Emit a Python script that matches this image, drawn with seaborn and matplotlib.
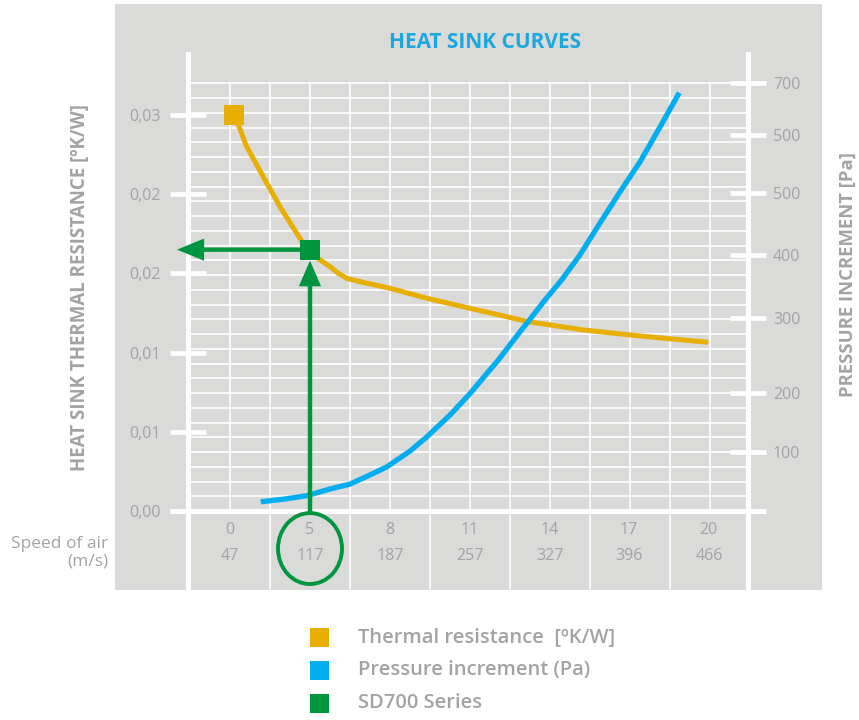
import numpy as np
import pandas as pd
import matplotlib
matplotlib.use("Agg")
import matplotlib.pyplot as plt
import matplotlib.transforms as mtransforms
from matplotlib.patches import Rectangle, Ellipse, FancyArrowPatch, ArrowStyle
from matplotlib.lines import Line2D
import seaborn as sns

# ---------------- data ----------------
SPEEDS = ["0", "5", "8", "11", "14", "17", "20"]
FLOWS = [47, 117, 187, 257, 327, 396, 466]

THERMAL_X = [50.9, 61.6, 76.1, 90.75, 105.4, 114.1, 122.9, 134.5, 142.0, 149.1, 160.75,
             187.0, 219.1, 257.0, 308.0, 356.1, 405.75, 465.5]
THERMAL_Y = [0.02503, 0.02300, 0.02110, 0.01921, 0.01753, 0.01654, 0.01600, 0.01542,
             0.01500, 0.01469, 0.01448, 0.01406, 0.01343, 0.01280, 0.01195, 0.01143,
             0.01105, 0.01065]

PRESSURE_X = [73.9, 95.1, 114.1, 134.5, 152.0, 169.5, 184.1, 204.5, 219.1, 239.5, 257.0,
              274.5, 281.8, 300.75, 308.0, 322.6, 337.2, 353.25, 370.75, 388.25, 405.75,
              423.25, 440.1]
PRESSURE_Y = [15, 19.6, 25, 36, 44, 59, 72, 98, 121, 157, 192,
              231, 247, 293, 310, 345, 378, 419, 471, 522, 571,
              628, 684]

SD700_X = 117
SD700_Y = 0.0165

LEFT_TICKS = [0, 0.005, 0.01, 0.015, 0.02, 0.025]
LEFT_LABELS = ["0,00", "0,01", "0,01", "0,02", "0,02", "0,03"]
RIGHT_TICKS = [0, 97, 193, 316, 419, 520, 615, 700]
RIGHT_LABELS = ["", "100", "200", "300", "400", "500", "500", "700"]

LEGEND_LABELS = ["Thermal resistance  [ºK/W]", "Pressure increment (Pa)", "SD700 Series"]

# ---------------- style ----------------
sns.set_style("white")
plt.rcParams['font.family'] = ['Open Sans', 'DejaVu Sans']

ORANGE = "#E8AE00"
BLUE = "#00AEEF"
GREEN = "#00963F"
BG = "#DADAD9"
TXT = "#A3A3A3"
TITLE = "#1BA8E0"

W, H = 859, 720
fig = plt.figure(figsize=(W / 100, H / 100), dpi=100)
fig.patch.set_facecolor("white")


def fx(px):
    return px / W


def fy(py):
    return 1 - py / H


fig.add_artist(Rectangle((fx(115), fy(590)), fx(822) - fx(115), fy(4) - fy(590),
                         transform=fig.transFigure, facecolor=BG, edgecolor='none', zorder=-10))

ax = fig.add_axes([fx(188), fy(590), fx(748) - fx(188), fy(54) - fy(590)])
ax.set_facecolor('none')
ax2 = ax.twinx()
ax2.set_zorder(ax.get_zorder() + 1)
ax2.patch.set_visible(False)

XLIM = (10.25, 500.25)
YLIM = (-0.004987, 0.028851)
Y2LIM = (-129.2, 747.4)
GRID_TOP = 0.0270

# grid
ax.hlines(np.linspace(0, GRID_TOP, 30)[1:], XLIM[0], XLIM[1], color='white', lw=1.2, zorder=1)
ax.vlines(np.arange(47, 470, 35), 0, GRID_TOP, color='white', lw=1.2, zorder=1)
ax.vlines(np.arange(82, 440, 70), YLIM[0], 0, color='white', lw=1.1, zorder=1)

# curves
thermal = pd.DataFrame({"x": THERMAL_X, "y": THERMAL_Y})
pressure = pd.DataFrame({"x": PRESSURE_X, "y": PRESSURE_Y})
sns.lineplot(data=thermal, x="x", y="y", ax=ax, color=ORANGE, lw=3.6, sort=False,
             zorder=3, solid_capstyle='butt', solid_joinstyle='round')
sns.scatterplot(x=[THERMAL_X[0]], y=[THERMAL_Y[0]], ax=ax, marker='s', s=190,
                color=ORANGE, linewidth=0, zorder=4, legend=False)
sns.lineplot(data=pressure, x="x", y="y", ax=ax2, color=BLUE, lw=3.8, sort=False,
             zorder=3, solid_capstyle='butt', solid_joinstyle='round')

# SD700 marker, arrows, circle (drawn in left-axis data coords on top layer)
circle_cy = -0.00237
circle_h = 0.00448
ax2.add_patch(Ellipse((SD700_X, circle_cy), 56, circle_h, transform=ax.transData,
                      facecolor='none', edgecolor=GREEN, lw=2.8, zorder=5))
ax2.add_patch(FancyArrowPatch((SD700_X, circle_cy + circle_h / 2), (SD700_X, SD700_Y),
                              transform=ax.transData,
                              arrowstyle=ArrowStyle("simple", head_length=18.5, head_width=16, tail_width=3.2),
                              mutation_scale=1, shrinkA=0, shrinkB=7.9, color=GREEN, lw=0,
                              zorder=5, clip_on=False))
ax2.add_patch(FancyArrowPatch((SD700_X, SD700_Y), (XLIM[0] - 9.6, SD700_Y),
                              transform=ax.transData,
                              arrowstyle=ArrowStyle("simple", head_length=19.5, head_width=16, tail_width=3.2),
                              mutation_scale=1, shrinkA=0, shrinkB=0, color=GREEN, lw=0,
                              zorder=5, clip_on=False))
sns.scatterplot(x=[SD700_X], y=[SD700_Y], ax=ax2, transform=ax.transData, marker='s', s=195,
                color=GREEN, linewidth=0, zorder=6, legend=False)

# axis category labels
for s, f in zip(SPEEDS, FLOWS):
    ax.text(f, -0.0012, s, ha='center', va='center', fontsize=11.5, color=TXT)
    ax.text(f, -0.00284, str(f), ha='center', va='center', fontsize=11.5, color=TXT)

# limits
ax.set_xlim(XLIM)
ax.set_ylim(YLIM)
ax2.set_ylim(Y2LIM)
ax.set_xlabel("")
ax.set_ylabel("")
ax2.set_ylabel("")
ax.set_xticks([])

# spines
for a in (ax, ax2):
    for sp in a.spines.values():
        sp.set_visible(False)
for side in ("left", "right"):
    ax.spines[side].set_visible(True)
    ax.spines[side].set_color("white")
    ax.spines[side].set_linewidth(3.6)

blend = mtransforms.blended_transform_factory(ax.transAxes, ax.transData)
ax.add_line(Line2D([-0.032, 1.030], [0, 0], transform=blend, color='white', lw=3.6,
                   clip_on=False, zorder=2, solid_capstyle='butt'))

# ticks
ax.set_yticks(LEFT_TICKS, LEFT_LABELS)
ax.tick_params(axis='y', which='both', direction='inout', length=26, width=3.4, color='white',
               pad=6.5, labelsize=11.5, labelcolor=TXT, left=True, right=False)
ax2.set_yticks(RIGHT_TICKS, RIGHT_LABELS)
ax2.tick_params(axis='y', which='both', direction='inout', length=26, width=3.4, color='white',
                pad=5, labelsize=11.5, labelcolor=TXT, right=True, left=False)

# texts
fig.text(fx(485), fy(43), "HEAT SINK CURVES", ha='center', va='center', fontsize=15,
         fontweight='bold', color=TITLE)
fig.text(fx(80), fy(288), "HEAT SINK THERMAL RESISTANCE [ºK/W]", rotation=90, ha='center',
         va='center', fontsize=13.5, fontweight='bold', color=TXT)
fig.text(fx(848), fy(275), "PRESSURE INCREMENT [Pa]", rotation=90, ha='center',
         va='center', fontsize=13.3, fontweight='bold', color=TXT)
fig.text(fx(108), fy(544), "Speed of air", ha='right', va='center', fontsize=12.5, color=TXT)
fig.text(fx(108), fy(561), "(m/s)", ha='right', va='center', fontsize=12.5, color=TXT)

# legend
for i, (lab, col) in enumerate(zip(LEGEND_LABELS, [ORANGE, BLUE, GREEN])):
    cy = 637.5 + 33 * i
    fig.add_artist(Rectangle((fx(310), fy(cy + 9.5)), 19 / W, 19 / H, transform=fig.transFigure,
                             facecolor=col, edgecolor='none'))
    fig.text(fx(358), fy(cy), lab, ha='left', va='center', fontsize=14.5, fontweight='semibold',
             color=TXT)

fig.savefig("out.png", dpi=100, facecolor="white")
